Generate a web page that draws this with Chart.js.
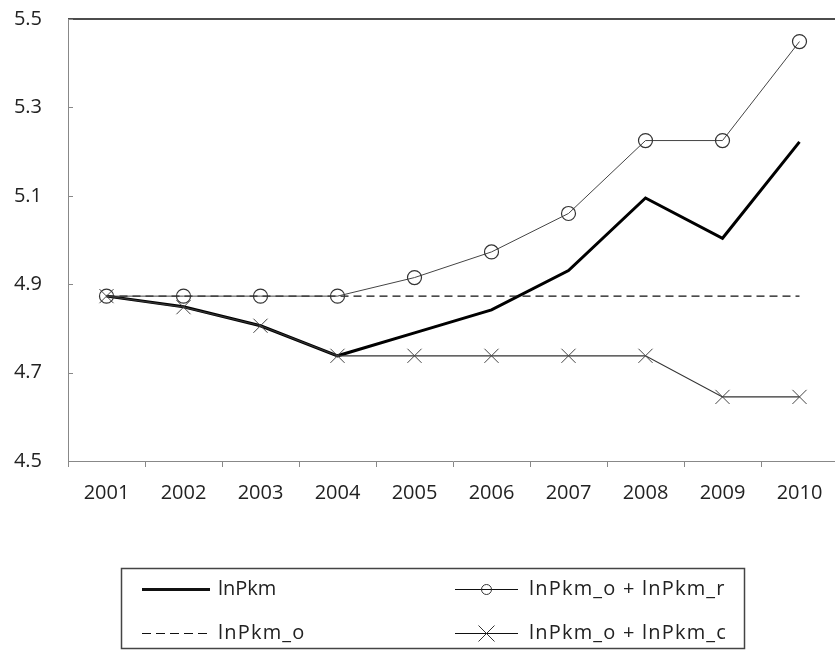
<!DOCTYPE html>
<html>
<head>
<meta charset="utf-8">
<script src="https://cdn.jsdelivr.net/npm/chart.js@4/dist/chart.umd.min.js"></script>
<style>
    html, body { margin: 0; padding: 0; background: #fff; overflow: hidden; }
    #wrap { width: 838px; height: 650px; }
</style>
</head>
<body>
<div id="wrap"><canvas id="lnChart" width="838" height="650"></canvas></div>
<script>
// categories and series
const years = ["2001", "2002", "2003", "2004", "2005", "2006", "2007", "2008", "2009", "2010"];
const lnPkm = [4.873, 4.849, 4.806, 4.738, 4.790, 4.842, 4.931, 5.095, 5.004, 5.222];
const lnPkmO = [4.873, 4.873, 4.873, 4.873, 4.873, 4.873, 4.873, 4.873, 4.873, 4.873];
const lnPkmOR = [4.873, 4.873, 4.873, 4.873, 4.915, 4.973, 5.060, 5.225, 5.225, 5.449];
const lnPkmOC = [4.873, 4.848, 4.806, 4.738, 4.738, 4.738, 4.738, 4.738, 4.645, 4.645];
const yTicks = [4.5, 4.7, 4.9, 5.1, 5.3, 5.5];

const legendItems = [
    { text: "lnPkm", col: 0, row: 0, width: 3, dash: [], marker: null, spacing: 0 },
    { text: "lnPkm_o + lnPkm_r", col: 1, row: 0, width: 1, dash: [], marker: "circle", spacing: 1.2 },
    { text: "lnPkm_o", col: 0, row: 1, width: 1.2, dash: [9, 5], marker: null, spacing: 1.2 },
    { text: "lnPkm_o + lnPkm_c", col: 1, row: 1, width: 1, dash: [], marker: "cross", spacing: 1.2 }
];

const FONT = "'Open Sans', 'DejaVu Sans', sans-serif";
Chart.defaults.font.family = FONT;
Chart.defaults.font.size = 20;
Chart.defaults.color = "#222";

// top frame line + small inward tick marks on the y axis
const framePlugin = {
    id: "frame",
    afterDraw(chart) {
        const { ctx, chartArea } = chart;
        const y = chart.scales.y;
        ctx.save();
        ctx.strokeStyle = "#111";
        ctx.lineWidth = 1.5;
        ctx.beginPath();
        ctx.moveTo(chartArea.left, chartArea.top);
        ctx.lineTo(chartArea.right, chartArea.top);
        ctx.stroke();
        ctx.strokeStyle = "#888";
        ctx.lineWidth = 1;
        yTicks.forEach(v => {
            const py = Math.round(y.getPixelForValue(v)) + 0.5;
            ctx.beginPath();
            ctx.moveTo(chartArea.left, py);
            ctx.lineTo(chartArea.left + 5, py);
            ctx.stroke();
        });
        ctx.restore();
    }
};

// boxed legend under the chart, two columns
const boxLegendPlugin = {
    id: "boxLegend",
    afterDraw(chart) {
        const ctx = chart.ctx;
        const box = { x: 121.5, y: 568.5, w: 623, h: 80 };
        ctx.save();
        ctx.strokeStyle = "#444";
        ctx.lineWidth = 1.5;
        ctx.strokeRect(box.x, box.y, box.w, box.h);

        const colX = [142, 455];
        const lineLen = [68, 63];
        const textGap = [8, 11];
        const rowY = [589, 633];
        ctx.font = "20px " + FONT;
        ctx.textBaseline = "middle";
        legendItems.forEach(item => {
            const x0 = colX[item.col];
            const x1 = x0 + lineLen[item.col];
            const yy = rowY[item.row] + 0.5;
            ctx.strokeStyle = "#111";
            ctx.lineWidth = item.width;
            ctx.setLineDash(item.dash);
            ctx.beginPath();
            ctx.moveTo(x0, yy);
            ctx.lineTo(x1, yy);
            ctx.stroke();
            ctx.setLineDash([]);
            const mx = (x0 + x1) / 2;
            ctx.lineWidth = 1;
            ctx.strokeStyle = "#333";
            if (item.marker === "circle") {
                ctx.beginPath();
                ctx.arc(mx, yy, 5, 0, Math.PI * 2);
                ctx.stroke();
            } else if (item.marker === "cross") {
                ctx.beginPath();
                ctx.moveTo(mx - 8, yy - 8);
                ctx.lineTo(mx + 8, yy + 8);
                ctx.moveTo(mx + 8, yy - 8);
                ctx.lineTo(mx - 8, yy + 8);
                ctx.stroke();
            }
            ctx.fillStyle = "#222";
            ctx.letterSpacing = item.spacing + "px";
            ctx.fillText(item.text, x1 + textGap[item.col], yy);
            ctx.letterSpacing = "0px";
        });
        ctx.restore();
    }
};

let ctx = document.getElementById("lnChart").getContext("2d");
window.lnChartInstance = new Chart(ctx, {
    type: "line",
    data: {
        labels: years,
        datasets: [
            {
                label: "lnPkm_o + lnPkm_r",
                data: lnPkmOR,
                borderColor: "#444",
                borderWidth: 1,
                pointStyle: "circle",
                pointRadius: 7,
                pointBorderColor: "#333",
                pointBackgroundColor: "rgba(0,0,0,0)",
                pointBorderWidth: 1.2
            },
            {
                label: "lnPkm_o + lnPkm_c",
                data: lnPkmOC,
                borderColor: "#333",
                borderWidth: 1.2,
                pointStyle: "crossRot",
                pointRadius: 10,
                pointBorderColor: "#444",
                pointBorderWidth: 1
            },
            {
                label: "lnPkm_o",
                data: lnPkmO,
                borderColor: "#111",
                borderWidth: 1.2,
                borderDash: [8, 5],
                pointRadius: 0
            },
            {
                label: "lnPkm",
                data: lnPkm,
                borderColor: "#000",
                borderWidth: 3,
                pointRadius: 0
            }
        ]
    },
    options: {
        responsive: false,
        animation: false,
        layout: { autoPadding: false, padding: { top: 19, bottom: 140, left: 0, right: 0 } },
        plugins: {
            legend: { display: false },
            tooltip: { enabled: false }
        },
        elements: { line: { tension: 0 } },
        scales: {
            x: {
                offset: true,
                grid: {
                    offset: true,
                    drawOnChartArea: false,
                    drawTicks: true,
                    tickLength: 6,
                    color: "#888"
                },
                border: { display: true, color: "#888", width: 1 },
                ticks: { padding: 14, maxRotation: 0, autoSkip: false },
                afterFit: s => {
                    s.height = 49;
                    s.paddingLeft = 0;
                    s.paddingRight = 0;
                }
            },
            y: {
                min: 4.5,
                max: 5.5,
                afterBuildTicks: s => { s.ticks = yTicks.map(v => ({ value: v })); },
                grid: { drawOnChartArea: false, drawTicks: false },
                border: { display: true, color: "#888", width: 1 },
                ticks: {
                    padding: 26,
                    callback: v => v.toFixed(1)
                },
                afterFit: s => {
                    s.width = 68;
                    s.paddingTop = 0;
                    s.paddingBottom = 0;
                }
            }
        }
    },
    plugins: [framePlugin, boxLegendPlugin]
});
</script>
</body>
</html>
